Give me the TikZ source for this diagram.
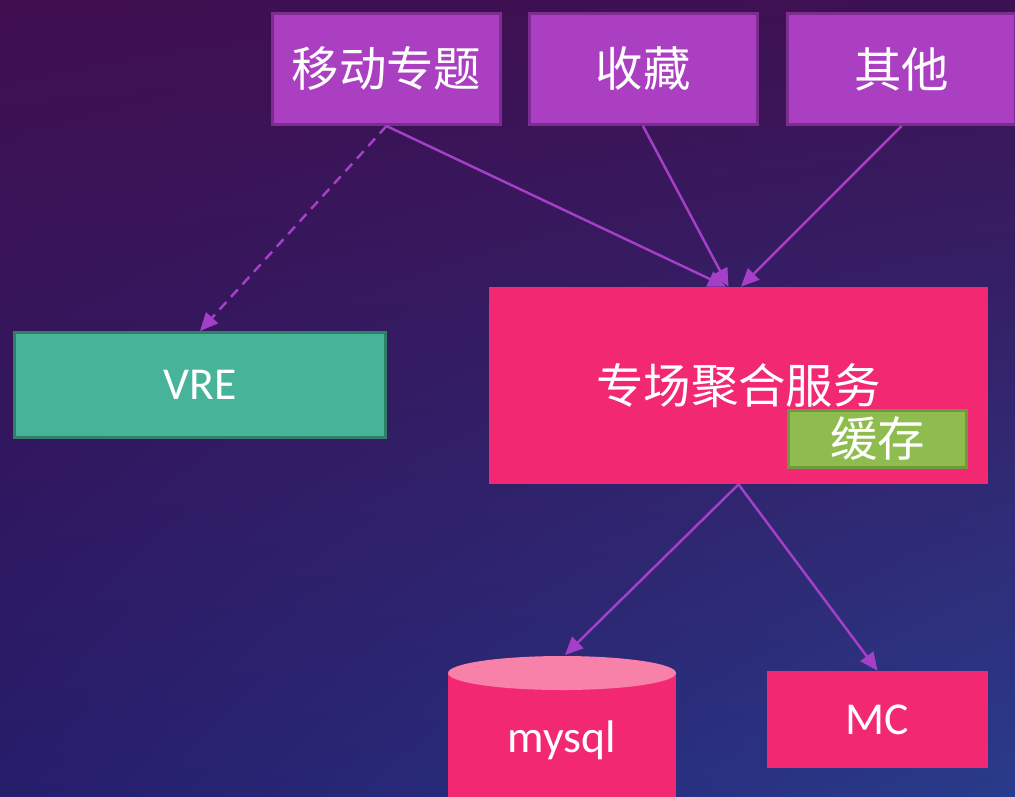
\documentclass[tikz,border=0pt]{standalone}
\usepackage{fontspec}
\setmainfont{Carlito}
\newfontfamily\cjk{Noto Sans CJK SC}
\usetikzlibrary{arrows.meta,positioning,shadings}
\definecolor{bgtl}{HTML}{400F50}
\definecolor{bgtr}{HTML}{3C1152}
\definecolor{bgbl}{HTML}{261D6B}
\definecolor{bgbr}{HTML}{293B8B}
\definecolor{topicfill}{HTML}{AB3FC1}
\definecolor{topicedge}{HTML}{7D2D91}
\definecolor{vrefill}{HTML}{47B399}
\definecolor{vreedge}{HTML}{2F8067}
\definecolor{aggpink}{HTML}{F22873}
\definecolor{cachefill}{HTML}{8FBC4E}
\definecolor{cacheedge}{HTML}{6D9A3B}
\definecolor{dbtopc}{HTML}{F881A9}
\definecolor{arrowc}{HTML}{A63FC8}
\newcommand{\bigcjk}{\cjk\fontsize{27}{31}\selectfont}

\begin{document}
\begin{tikzpicture}[
  topic/.style={rectangle,draw=topicedge,fill=topicfill,line width=1.7pt,
    minimum width=4.56cm,minimum height=2.22cm,text=white,font=\bigcjk},
  flow/.style={-{Triangle[length=0.36cm,width=0.32cm]},line width=1.4pt,color=arrowc}
]
\useasboundingbox (0,0) rectangle (20.3,-15.92);
\clip (0,0) rectangle (20.3,-15.92);
\shade[upper left=bgtl,upper right=bgtr,lower left=bgbl,lower right=bgbr]
  (0,0) rectangle (20.3,-15.92);
% top row
\node (tmove) [topic] at (7.73,-1.38) {移动专题};
\node (tfav) [topic] at (12.86,-1.38) {收藏};
\node (tother) [topic] at (18.03,-1.38) {其他};
%
\node (vre) [rectangle,draw=vreedge,fill=vrefill,line width=1.7pt,minimum width=7.42cm,
  minimum height=2.1cm,text=white,font=\fontsize{26}{30}\selectfont] at (4.0,-7.7) {VRE};
\node (agg) [rectangle,fill=aggpink,minimum width=9.98cm,minimum height=3.94cm,
  text=white,font=\bigcjk] at (14.77,-7.71) {专场聚合服务};
\node (cache) [rectangle,draw=cacheedge,fill=cachefill,line width=1.7pt,minimum width=3.56cm,
  minimum height=1.14cm,inner sep=0pt,text=white,font=\bigcjk] at (17.55,-8.78) {缓存};
% database
\fill[aggpink] (8.96,-13.46) rectangle (13.52,-16.3);
\fill[dbtopc] (11.24,-13.46) ellipse (2.28cm and 0.34cm);
\node (mysql) [text=white,font=\fontsize{26}{30}\selectfont] at (11.24,-14.8) {mysql};
\coordinate (dbtop) at (11.3,-13.1);
\node (mc) [rectangle,fill=aggpink,minimum width=4.42cm,minimum height=1.94cm,
  text=white,font=\fontsize{26}{30}\selectfont] at (17.55,-14.39) {MC};
%
\path[flow,dash pattern=on 0.2cm off 0.14cm] (tmove.south) edge (vre.north);
\path[flow] (tmove.south) edge ([xshift=-0.25cm]agg.north);
\path[flow] (tfav.south) edge ([xshift=-0.2cm]agg.north);
\path[flow] (tother.south) edge ([xshift=0.05cm]agg.north);
\path[flow] (agg.south) edge (dbtop);
\path[flow] (agg.south) edge (mc.north);
\end{tikzpicture}
\end{document}
